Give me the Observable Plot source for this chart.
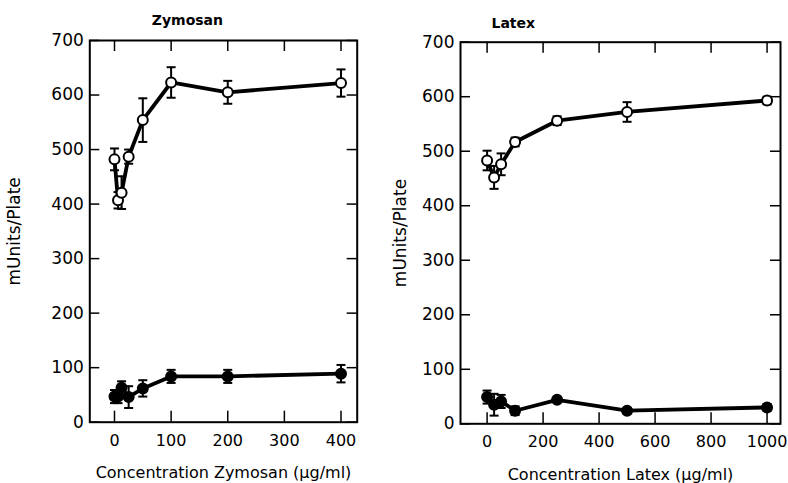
<!DOCTYPE html>
<html>
<head>
<meta charset="utf-8">
<script src="https://cdn.jsdelivr.net/npm/d3@7"></script>
<script src="https://cdn.jsdelivr.net/npm/@observablehq/plot@0.6"></script>
<style>
  html, body { margin: 0; padding: 0; background: #fff; }
  #wrap { position: relative; width: 788px; height: 483px; overflow: hidden; }
  #wrap svg { position: absolute; top: 0; }
</style>
</head>
<body>
<div id="wrap"></div>
<script>
// ---- Data ----
const zymX = [0, 6.25, 12.5, 25, 50, 100, 200, 400];
const zymOpen = [482, 407, 421, 487, 554, 623, 605, 622];
const zymOpenErr = [20, 15, 30, 13, 40, 28, 21, 25];
const zymFilled = [47, 47, 63, 46, 62, 84, 84, 89];
const zymFilledErr = [12, 12, 12, 20, 15, 12, 12, 16];

const latX = [0, 25, 50, 100, 250, 500, 1000];
const latOpen = [483, 452, 476, 517, 556, 572, 593];
const latOpenErr = [18, 21, 20, 8, 8, 18, 7];
const latFilled = [49, 35, 41, 24, 44, 24, 30];
const latFilledErr = [12, 20, 12, 8, 3, 5, 6];

const yTicks = [0, 100, 200, 300, 400, 500, 600, 700];
const zymXTicks = [0, 100, 200, 300, 400];
const latXTicks = [0, 200, 400, 600, 800, 1000];

const titles = ["Zymosan", "Latex"];
const xLabels = ["Concentration Zymosan (\u03bcg/ml)", "Concentration Latex (\u03bcg/ml)"];
const yLabel = "mUnits/Plate";

// ---- helpers ----
function rows(xs, ys, es) {
  return xs.map((x, i) => ({x, y: ys[i], lo: ys[i] - es[i], hi: ys[i] + es[i]}));
}
const capSymbol = {
  draw(ctx) { ctx.moveTo(-4.5, 0); ctx.lineTo(4.5, 0); }
};
const FONT = "'DejaVu Sans', Verdana, sans-serif";

function panel(o) {
  const H = 483;
  const innerH = H - o.mt - o.mb;
  const innerW = o.width - o.ml - o.mr;
  const open = rows(o.x, o.openY, o.openE);
  const filled = rows(o.x, o.filledY, o.filledE);
  const series = (data, fill) => [
    Plot.line(data, {x: "x", y: "y", stroke: "black", strokeWidth: 3.8}),
    Plot.ruleX(data, {x: "x", y1: "lo", y2: "hi", stroke: "black", strokeWidth: 2}),
    Plot.dot(data, {x: "x", y: "lo", symbol: capSymbol, stroke: "black", strokeWidth: 2, fill: "none"}),
    Plot.dot(data, {x: "x", y: "hi", symbol: capSymbol, stroke: "black", strokeWidth: 2, fill: "none"}),
    Plot.dot(data, {x: "x", y: "y", r: 5, fill, stroke: "black", strokeWidth: 2})
  ];
  return Plot.plot({
    width: o.width, height: H,
    marginLeft: o.ml, marginRight: o.mr, marginTop: o.mt, marginBottom: o.mb,
    style: {fontFamily: FONT, fontSize: "15px", color: "black", background: "transparent"},
    x: {domain: o.xDomain},
    y: {domain: [0, 700]},
    marks: [
      Plot.frame({stroke: "black", strokeWidth: 2}),
      Plot.ruleX(o.xTicks, {x: d => d, insetTop: innerH - 11, stroke: "black", strokeWidth: 1.5}),
      Plot.ruleX(o.xTicks, {x: d => d, insetBottom: innerH - 11, stroke: "black", strokeWidth: 1.5}),
      Plot.ruleY(yTicks, {y: d => d, insetRight: innerW - 10, stroke: "black", strokeWidth: 1.5}),
      Plot.ruleY(yTicks, {y: d => d, insetLeft: innerW - 10, stroke: "black", strokeWidth: 1.5}),
      Plot.axisX(o.xTicks, {anchor: "bottom", tickSize: 0, tickPadding: 12, fontSize: 16,
        label: o.xLabel, labelAnchor: "center", labelOffset: 56, labelArrow: false, tickFormat: d => String(d)}),
      Plot.axisY(yTicks, {anchor: "left", tickSize: 0, tickPadding: 6, fontSize: 17,
        label: yLabel, labelAnchor: "center", labelOffset: o.yLabelOffset, labelArrow: false, tickFormat: d => String(d)}),
      ...series(open, "white"),
      ...series(filled, "black"),
      Plot.text([o.title], {frameAnchor: "top-left", textAnchor: "start", dx: o.titleDx, dy: o.titleDy,
        fontWeight: "bold", fontSize: 14})
    ]
  });
}

const left = panel({
  x: zymX, openY: zymOpen, openE: zymOpenErr, filledY: zymFilled, filledE: zymFilledErr,
  xDomain: [-43.6, 428.6], xTicks: zymXTicks, title: titles[0], xLabel: xLabels[0],
  width: 380, ml: 89.3, mr: 23.3, mt: 40, mb: 61.3, yLabelOffset: 82, titleDx: 62, titleDy: -25
});
const right = panel({
  x: latX, openY: latOpen, openE: latOpenErr, filledY: latFilled, filledE: latFilledErr,
  xDomain: [-95, 1048], xTicks: latXTicks, title: titles[1], xLabel: xLabels[1],
  width: 408, ml: 80, mr: 8, mt: 41.7, mb: 59.7, yLabelOffset: 67, titleDx: 31, titleDy: -24
});
left.style.left = "0px";
right.style.left = "380px";
document.getElementById("wrap").append(left, right);
</script>
</body>
</html>
